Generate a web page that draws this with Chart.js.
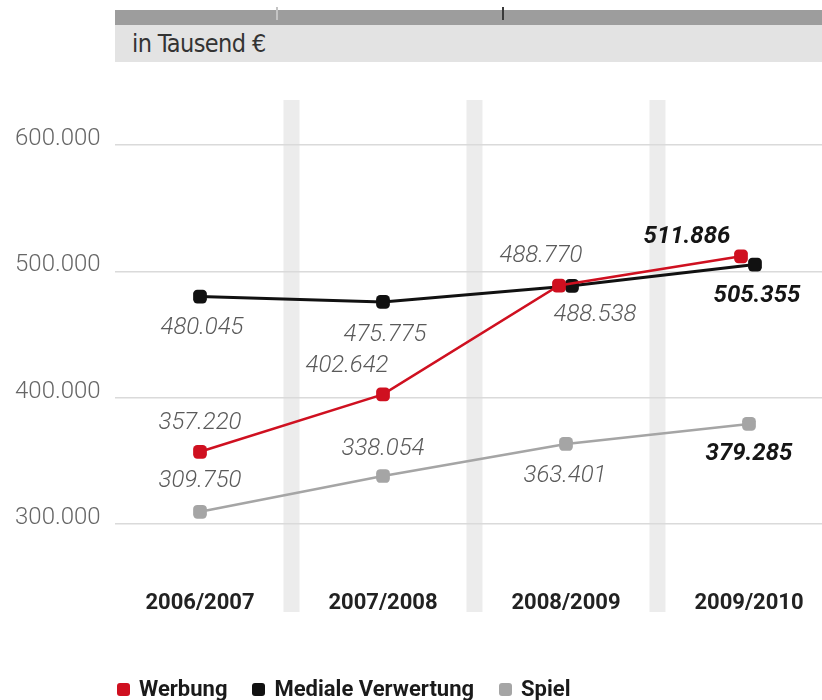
<!DOCTYPE html>
<html lang="de">
<head>
<meta charset="utf-8">
<title>Erlöse in Tausend €</title>
<script src="https://cdn.jsdelivr.net/npm/chart.js@4.4.0/dist/chart.umd.min.js"></script>
<style>
  html, body { margin: 0; padding: 0; background: #fff; }
  #wrap { position: relative; width: 822px; height: 700px; overflow: hidden; }
  #chart { position: absolute; left: 0; top: 0; }
  #topBar { position: absolute; left: 115px; right: 0; top: 10px; height: 15px; background: #9d9d9d; }
  .mark { position: absolute; top: 7px; width: 2px; height: 13px; }
  #unitBar {
    position: absolute; left: 115px; right: 0; top: 25px; height: 37px;
    background: #e3e3e3; color: #333; box-sizing: border-box; padding-left: 17px;
    font: 25px "Liberation Sans Narrow", "DejaVu Sans Condensed", sans-serif; line-height: 37px;
    letter-spacing: -0.6px;
  }
  #legend {
    position: absolute; left: 117px; top: 677px; display: flex;
    font: 700 22px Roboto, sans-serif; color: #1a1a1a; line-height: 24px;
  }
  #legend .item { display: inline-flex; align-items: center; margin-right: 25px; }
  #legend .item i { display: inline-block; width: 13px; height: 13px; border-radius: 3px; margin-right: 9px; }
</style>
</head>
<body>
<div id="wrap">
  <canvas id="chart" width="822" height="700"></canvas>
  <div id="topBar"></div>
  <div class="mark" style="left:276px; background:#c4c4c4"></div>
  <div class="mark" style="left:502px; background:#3a3a3a"></div>
  <div id="unitBar">in Tausend €</div>
  <div id="legend"></div>
</div>
<script>
const seasons = ['2006/2007', '2007/2008', '2008/2009', '2009/2010']
const werbung = [357220, 402642, 488770, 511886]
const medialeVerwertung = [480045, 475775, 488538, 505355]
const spiel = [309750, 338054, 363401, 379285]
const yTicks = [300000, 400000, 500000, 600000]
const yTickLabels = ['300.000', '400.000', '500.000', '600.000']

// 480045 -> "480.045"
const fmt = (v) => String(v).replace(/\B(?=(\d{3})+(?!\d))/g, '.')

function series(label, values, color, width, extra) {
    return Object.assign({
        label: label,
        data: values.map((v, i) => ({ x: i, y: v })),
        borderColor: color,
        backgroundColor: color,
        pointBackgroundColor: color,
        pointBorderWidth: 0,
        borderWidth: width,
        pointStyle: 'rectRounded',
        pointRadius: 8,
        pointHoverRadius: 8,
        tension: 0
    }, extra)
}

// grey stripes between the seasons
const seasonBands = {
    id: 'seasonBands',
    beforeDraw(chart) {
        const { ctx, chartArea, scales } = chart
        ctx.save()
        ctx.fillStyle = '#ececec'
        for (let i = 0; i < seasons.length - 1; i++) {
            const x = scales.x.getPixelForValue(i + 0.5)
            ctx.fillRect(x - 8, chartArea.top, 16, chartArea.bottom + 50 - chartArea.top)
        }
        ctx.restore()
    }
}

// push apart points that sit on top of each other
const pointShift = {
    id: 'pointShift',
    afterDatasetsUpdate(chart) {
        chart.data.datasets.forEach((ds, d) => {
            if (!ds.shiftX) return
            chart.getDatasetMeta(d).data.forEach((pt, i) => {
                pt.x += ds.shiftX[i]
            })
        })
    }
}

const valueLabels = {
    id: 'valueLabels',
    afterDatasetsDraw(chart) {
        const ctx = chart.ctx
        ctx.save()
        ctx.textAlign = 'center'
        ctx.textBaseline = 'middle'
        chart.data.datasets.forEach((ds, d) => {
            chart.getDatasetMeta(d).data.forEach((pt, i) => {
                const last = i === ds.data.length - 1
                const [dx, dy] = ds.labelOffsets[i]
                ctx.font = (last ? 'italic 700 ' : 'italic 300 ') + '24px Roboto, sans-serif'
                ctx.fillStyle = last ? '#151515' : '#5a5a5a'
                ctx.fillText(fmt(ds.data[i].y), pt.x + dx, pt.y + dy)
            })
        })
        ctx.restore()
    }
}

const data = {
    datasets: [
        series('Werbung', werbung, '#cf1020', 2.5, {
            shiftX: [0, 0, -7, -8],
            labelOffsets: [[0, -29], [-36, -28], [-18, -30], [-54, -19]]
        }),
        series('Mediale Verwertung', medialeVerwertung, '#111111', 3, {
            shiftX: [0, 0, 6, 6],
            labelOffsets: [[2, 31], [2, 33], [23, 29], [2, 31]]
        }),
        series('Spiel', spiel, '#a5a5a5', 2.5, {
            labelOffsets: [[0, -31], [0, -27], [-1, 32], [0, 30]]
        })
    ]
}

const config = {
    type: 'line',
    data: data,
    options: {
        responsive: false,
        animation: false,
        layout: {
            autoPadding: false,
            padding: { left: 15, right: 0, top: 100, bottom: 78 }
        },
        plugins: {
            legend: { display: false },
            tooltip: { enabled: false }
        },
        scales: {
            x: {
                type: 'linear',
                min: -0.4645,
                max: 3.399,
                afterBuildTicks: (scale) => { scale.ticks = seasons.map((s, i) => ({ value: i })) },
                afterFit: (scale) => {
                    scale.height = 60
                    // labels stay well inside, no extra side padding needed
                    scale.paddingLeft = 0
                    scale.paddingRight = 0
                },
                grid: { display: false, drawTicks: false },
                border: { display: false },
                ticks: {
                    callback: (v) => seasons[v],
                    padding: 28,
                    maxRotation: 0,
                    autoSkip: false,
                    color: '#222',
                    font: { family: 'Roboto', size: 22, weight: '700' }
                }
            },
            y: {
                min: 270000,
                max: 635600,
                afterBuildTicks: (scale) => { scale.ticks = yTicks.map((v) => ({ value: v })) },
                afterFit: (scale) => { scale.width = 100 },
                grid: { color: '#dadada', lineWidth: 1.5, drawTicks: false },
                border: { display: false },
                ticks: {
                    callback: (v, i) => yTickLabels[i],
                    crossAlign: 'far',
                    labelOffset: -6,
                    color: '#666',
                    font: { family: 'Roboto', size: 24, weight: '300' }
                }
            }
        }
    },
    plugins: [seasonBands, pointShift, valueLabels]
}

const chart = new Chart(document.querySelector('#chart'), config)

// legend underneath, built from the datasets
const legend = document.querySelector('#legend')
chart.data.datasets.forEach((ds) => {
    const item = document.createElement('span')
    item.className = 'item'
    item.innerHTML = '<i style="background:' + ds.borderColor + '"></i>' + ds.label
    legend.appendChild(item)
})
</script>
</body>
</html>
